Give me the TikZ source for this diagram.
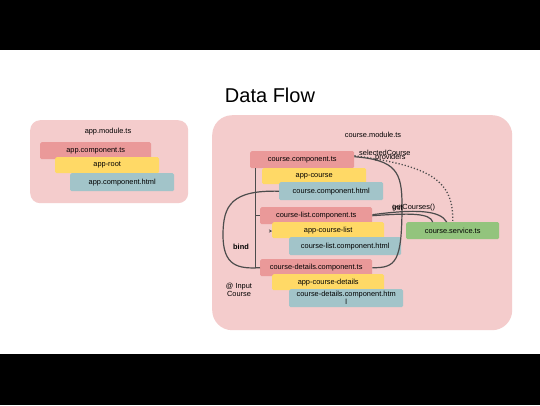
\documentclass[tikz,border=0pt]{standalone}
\usepackage{fontspec}
\setmainfont{Liberation Sans}
\usetikzlibrary{arrows.meta}
\newlength{\du}
\setlength{\du}{1pt}
\definecolor{modcolor}{rgb}{0.956863, 0.800000, 0.800000}
\definecolor{tscolor}{rgb}{0.917647, 0.600000, 0.600000}
\definecolor{tagcolor}{rgb}{1.000000, 0.850980, 0.400000}
\definecolor{htmlcolor}{rgb}{0.635294, 0.768627, 0.788235}
\definecolor{svccolor}{rgb}{0.576471, 0.768627, 0.490196}
\definecolor{dialinecolor}{rgb}{0.300000, 0.300000, 0.300000}
\begin{document}
\begin{tikzpicture}[yscale=-1,
  every node/.style={font=\fontsize{7.4}{8.2}\selectfont, inner sep=0pt},
  filebox/.style={rectangle, rounded corners=1.5\du, minimum height=17\du, anchor=north west},
  tsbox/.style={filebox, fill=tscolor},
  tagbox/.style={filebox, fill=tagcolor},
  htmlbox/.style={filebox, fill=htmlcolor},
  svcbox/.style={filebox, fill=svccolor},
  modbox/.style={rectangle, fill=modcolor, anchor=north west},
  flow/.style={draw=dialinecolor, line width=1.2\du}]
\useasboundingbox (0\du,0\du) rectangle (540\du,405\du);
\fill[white] (0\du,0\du) rectangle (540\du,405\du);
\fill[black] (0\du,0\du) rectangle (540\du,50\du);
\fill[black] (0\du,354\du) rectangle (540\du,405\du);
\node[font=\fontsize{20}{24}\selectfont] (title) at (270\du,95\du){Data Flow};
% app module
\node[modbox, rounded corners=10\du, minimum width=158\du, minimum height=83\du] (appmod) at (30\du,120\du){};
\node (appmodlabel) at (108\du,132\du){app.module.ts};
\node[tsbox, minimum width=111\du] (appts) at (40\du,142\du){app.component.ts};
\node[tagbox, minimum width=104\du, minimum height=16\du] (approot) at (55\du,157\du){app-root};
\node[htmlbox, minimum width=104\du, minimum height=18\du] (apphtml) at (70\du,173\du){app.component.html};
% course module
\node[modbox, rounded corners=20\du, minimum width=300\du, minimum height=215\du] (coursemod) at (212\du,115\du){};
\node (coursemodlabel) at (373\du,135\du){course.module.ts};
\node[tsbox, minimum width=104\du] (cts) at (250\du,151\du){course.component.ts};
\node[tagbox, minimum width=104\du, minimum height=16\du] (ctag) at (262\du,168\du){app-course};
\node[htmlbox, minimum width=104\du, minimum height=18\du] (chtml) at (279\du,182\du){course.component.html};
\node[tsbox, minimum width=112\du] (clts) at (260\du,207\du){course-list.component.ts};
\node[tagbox, minimum width=112\du, minimum height=16\du] (cltag) at (272\du,222\du){app-course-list};
\node[htmlbox, minimum width=112\du, minimum height=18\du] (clhtml) at (289\du,237\du){course-list.component.html};
\node[tsbox, minimum width=112\du] (cdts) at (260\du,259\du){course-details.component.ts};
\node[tagbox, minimum width=112\du, minimum height=16\du] (cdtag) at (272\du,274\du){app-course-details};
\node[htmlbox, minimum width=114\du, minimum height=18\du, align=center] (cdhtml) at (289\du,289\du){course-details.component.htm\\l};
\node[svcbox, minimum width=93\du] (svc) at (406\du,222\du){course.service.ts};
% connectors
\draw[flow, line width=0.8\du] ([xshift=5\du]cts.south west) |- (clts.west);
\draw[flow, line width=0.8\du] ([xshift=5\du]cts.south west) |- (cdts.west);
\draw[flow] (chtml.west) .. controls (232\du,190\du) and (223\du,205\du) .. (223\du,235\du) .. controls (223\du,266\du) and (238\du,269\du) .. (cdts.west);
\draw[flow] ([yshift=-3\du]cts.east) .. controls (396\du,160\du) and (402\du,172\du) .. (402\du,205\du) .. controls (402\du,262\du) and (396\du,268\du) .. (cdts.east);
\draw[flow, dotted, line width=1.3\du] ([yshift=-4\du]cts.east) .. controls (430\du,166\du) and (454\du,180\du) .. (svc.north);
\draw[flow] (clts.east) .. controls (410\du,213\du) and (430\du,213\du) .. ([xshift=-20\du]svc.north);
\draw[flow] ([yshift=-1\du]clts.east) .. controls (415\du,209\du) and (440\du,210\du) .. ([xshift=-6\du]svc.north);
\coordinate (tickstart) at (271\du,231\du);
\draw[draw=dialinecolor, -{Stealth[length=3pt,width=3pt]}] (tickstart) -- (cltag.west |- tickstart);
% labels
\node[font=\fontsize{7.4}{8.2}\selectfont\bfseries] (bindlabel) at (241\du,247\du){bind};
\node[align=center] (inputlabel) at (239\du,290\du){@ Input\\Course};
\node[anchor=west] (selectedlabel) at (359\du,153\du){selectedCourse};
\node[anchor=west] (providerslabel) at (375\du,157.5\du){providers};
\node[anchor=west] (getlabel) at (392\du,208\du){getCourses()};
\node[anchor=west] (initlabel) at (393\du,208\du){init};
\end{tikzpicture}
\end{document}
